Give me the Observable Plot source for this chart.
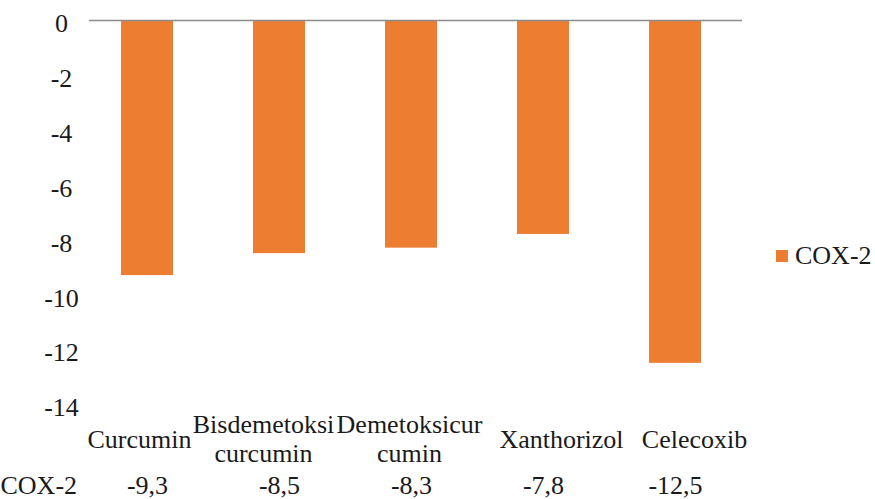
<!DOCTYPE html>
<html>
<head>
<meta charset="utf-8">
<script src="https://cdn.jsdelivr.net/npm/d3@7"></script>
<script src="https://cdn.jsdelivr.net/npm/@observablehq/plot@0.6"></script>
<style>
  html, body { margin: 0; padding: 0; background: #fff; }
  #wrap { position: relative; width: 875px; height: 499px; overflow: hidden; }
  #legend { position: absolute; left: 776px; top: 241px; font-family: "Liberation Serif", "Times New Roman", serif; font-size: 26px; color: #1a1a1a; display: flex; align-items: center; }
  #legend .sw { width: 12px; height: 12px; background: #ED7D31; margin-right: 7px; }
</style>
</head>
<body>
<div id="wrap"></div>
<script>
const categories = ["Curcumin", "Bisdemetoksi\ncurcumin", "Demetoksicur\ncumin", "Xanthorizol", "Celecoxib"];
const cox2 = [-9.3, -8.5, -8.3, -7.8, -12.5];
const valueLabels = ["-9,3", "-8,5", "-8,3", "-7,8", "-12,5"];
const seriesName = "COX-2";
const yTicks = [0, -2, -4, -6, -8, -10, -12, -14];

const data = categories.map((c, i) => ({category: c, value: cox2[i], label: valueLabels[i]}));
const font = "'Liberation Serif', 'Times New Roman', serif";

// small horizontal nudges of the category labels, as in the reference layout
const labelNudge = [-8, -16, -2, 18, 19];

const chart = Plot.plot({
  width: 875,
  height: 499,
  marginLeft: 79,
  marginRight: 133,
  marginTop: 20,
  marginBottom: 95,
  style: `font-family: ${font}; font-size: 26px; color: #1a1a1a; background: #fff;`,
  x: {domain: categories, paddingInner: 0.608, paddingOuter: 0.304, axis: null},
  y: {domain: [-14, 0], axis: null},
  marks: [
    Plot.barY(data, {x: "category", y1: 0, y2: "value", fill: "#ED7D31"}),
    Plot.ruleY([0], {stroke: "#8c8c8c", strokeWidth: 1.5, insetLeft: 10}),
    Plot.axisY({ticks: yTicks, tickSize: 0, tickPadding: 18, textAnchor: "middle", dy: 3.5, fontSize: 26, fontFamily: font, fill: "#1a1a1a", label: null, tickFormat: d => String(d)}),
    ...data.map((d, i) => Plot.text([d], {x: "category", text: "category", frameAnchor: "bottom", dx: labelNudge[i], dy: 33.4, lineAnchor: "middle", lineHeight: 1.154, fontSize: 26, fontFamily: font, fill: "#1a1a1a"})),
    Plot.text(data, {x: "category", text: "label", frameAnchor: "bottom", dy: 81.5, lineAnchor: "middle", fontSize: 26, fontFamily: font, fill: "#1a1a1a"}),
    Plot.text([seriesName], {frameAnchor: "bottom-left", dx: -79, dy: 81.5, textAnchor: "start", lineAnchor: "middle", fontSize: 26, fontFamily: font, fill: "#1a1a1a"})
  ]
});

const wrap = document.getElementById("wrap");
wrap.appendChild(chart);
const legend = document.createElement("div");
legend.id = "legend";
legend.innerHTML = `<span class="sw"></span><span>${seriesName}</span>`;
wrap.appendChild(legend);
</script>
</body>
</html>
